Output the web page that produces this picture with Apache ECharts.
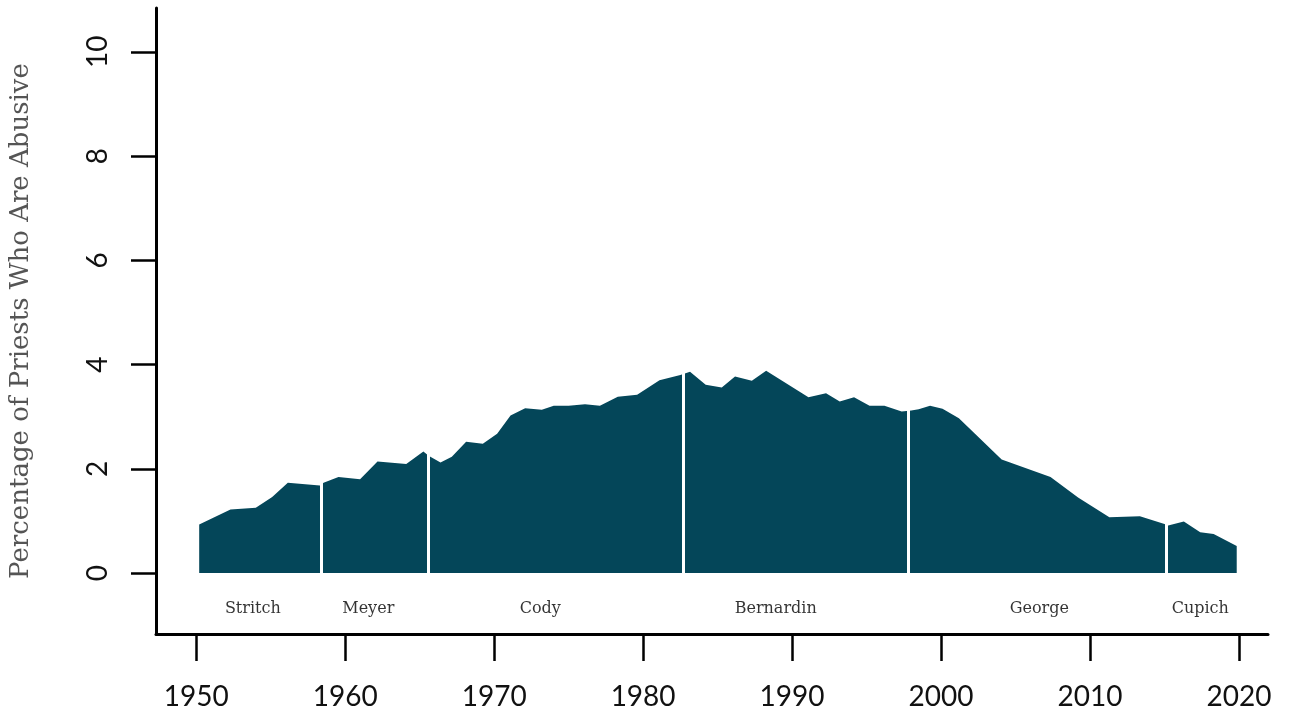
<!DOCTYPE html>
<html>
<head>
<meta charset="utf-8">
<script src="https://cdn.jsdelivr.net/npm/echarts@6/dist/echarts.min.js"></script>
<style>
  html, body { margin: 0; padding: 0; background: #fff; }
  #chart { width: 1292px; height: 717px; }
</style>
</head>
<body>
<div id="chart"></div>
<script>
// Share of priests who are abusive, by year
const years = [
  1950.2, 1952.3, 1954.0, 1955.1, 1956.15, 1958.3, 1958.55, 1959.55, 1961.0, 1962.17,
  1964.1, 1965.25, 1965.6, 1966.4, 1967.16, 1968.12, 1969.24, 1970.2, 1971.1, 1972.08,
  1973.2, 1974.0, 1975.0, 1976.1, 1977.1, 1978.3, 1979.6, 1981.1, 1982.5, 1983.15,
  1984.2, 1985.28, 1986.17, 1987.3, 1988.26, 1991.1, 1992.28, 1993.2, 1994.16, 1995.2,
  1996.2, 1997.36, 1998.0, 1998.5, 1999.26, 2000.1, 2001.2, 2004.07, 2007.35, 2009.2,
  2011.3, 2013.35, 2015.0, 2015.25, 2016.3, 2017.4, 2018.3, 2019.85
];
const percentAbusive = [
  0.93, 1.22, 1.25, 1.46, 1.73, 1.68, 1.73, 1.84, 1.80, 2.14,
  2.09, 2.33, 2.25, 2.12, 2.23, 2.52, 2.48, 2.67, 3.02, 3.16,
  3.13, 3.21, 3.21, 3.24, 3.21, 3.38, 3.42, 3.70, 3.80, 3.86,
  3.61, 3.56, 3.77, 3.69, 3.88, 3.37, 3.45, 3.29, 3.37, 3.21,
  3.21, 3.10, 3.12, 3.14, 3.21, 3.15, 2.97, 2.18, 1.84, 1.45,
  1.07, 1.09, 0.94, 0.91, 0.99, 0.78, 0.75, 0.52
];

// Archbishops of Chicago and where each name sits on the timeline
const archbishops = ['Stritch', 'Meyer', 'Cody', 'Bernardin', 'George', 'Cupich'];
const archbishopLabelYears = [1953.8, 1961.55, 1973.1, 1988.9, 2006.6, 2017.4];
const archbishopLabelLevel = -0.69;
// Years in which a new archbishop took over
const successionYears = [1958.4, 1965.55, 1982.68, 1997.8, 2015.1];

// Tick labels
const xTicks = [1950, 1960, 1970, 1980, 1990, 2000, 2010, 2020];
const yTicks = [0, 2, 4, 6, 8, 10];

const chart = echarts.init(document.getElementById('chart'), null, { renderer: 'canvas' });

const axisColor = '#000';

chart.setOption({
  animation: false,
  backgroundColor: '#fff',
  grid: { left: 156, right: 24, top: 8, bottom: 83, containLabel: false, outerBoundsMode: 'none' },
  xAxis: {
    type: 'value',
    min: 1947.3,
    max: 2021.95,
    splitLine: { show: false },
    axisLine: { show: true, onZero: false, lineStyle: { color: axisColor, width: 3 } },
    axisTick: {
      show: true, length: 27, inside: false,
      customValues: xTicks,
      lineStyle: { color: axisColor, width: 2.5 }
    },
    axisLabel: {
      show: true,
      customValues: xTicks,
      margin: 49,
      color: '#111',
      fontFamily: 'Lato',
      fontSize: 28,
      formatter: v => String(v)
    }
  },
  yAxis: {
    type: 'value',
    min: -1.17,
    max: 10.84,
    name: 'Percentage of Priests Who Are Abusive',
    nameLocation: 'middle',
    nameGap: 122,
    nameRotate: 90,
    nameTextStyle: {
      fontFamily: 'DejaVu Serif',
      fontSize: 26,
      color: '#555'
    },
    splitLine: { show: false },
    axisLine: { show: true, onZero: false, lineStyle: { color: axisColor, width: 3 } },
    axisTick: {
      show: true, length: 25, inside: false,
      customValues: yTicks,
      lineStyle: { color: axisColor, width: 2.5 }
    },
    axisLabel: {
      show: true,
      customValues: yTicks,
      rotate: 90,
      margin: 44,
      color: '#111',
      fontFamily: 'Lato',
      fontSize: 28,
      formatter: v => String(v)
    }
  },
  series: [
    {
      type: 'line',
      data: years.map((y, i) => [y, percentAbusive[i]]),
      symbol: 'none',
      lineStyle: { width: 0 },
      areaStyle: { color: '#044659', opacity: 1 },
      silent: true,
      markLine: {
        silent: true,
        symbol: ['none', 'none'],
        label: { show: false },
        lineStyle: { color: '#fff', width: 3, type: 'solid' },
        data: successionYears.map(y => [{ coord: [y, 0] }, { coord: [y, 4.6] }])
      }
    },
    {
      type: 'scatter',
      data: archbishops.map((n, i) => ({ name: n, value: [archbishopLabelYears[i], archbishopLabelLevel] })),
      symbolSize: 1,
      itemStyle: { color: 'rgba(0,0,0,0)' },
      silent: true,
      label: {
        show: true,
        position: 'inside',
        formatter: '{b}',
        fontFamily: 'DejaVu Serif',
        fontSize: 16,
        color: '#000'
      }
    }
  ]
});
</script>
</body>
</html>
